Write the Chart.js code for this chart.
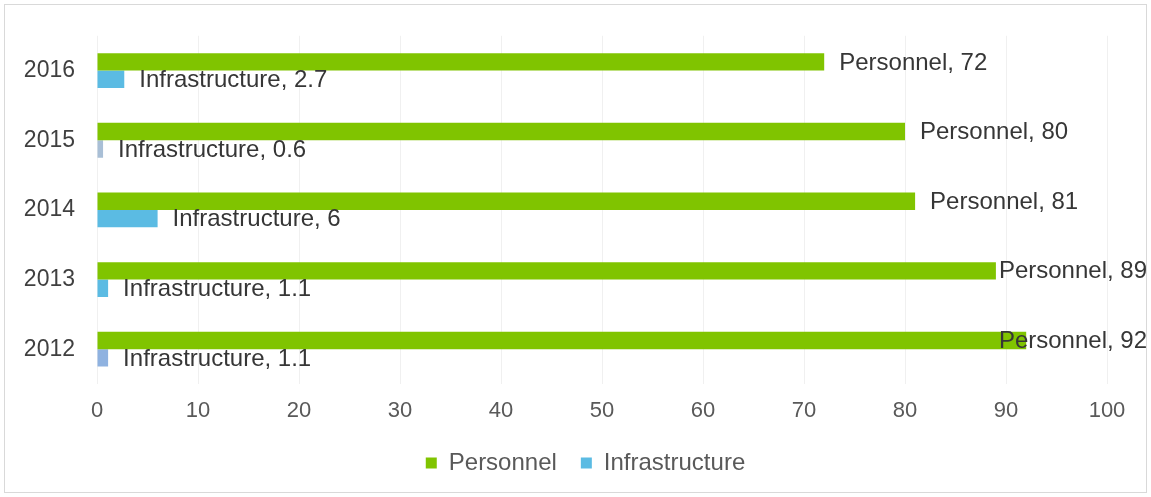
<!DOCTYPE html>
<html>
<head>
<meta charset="utf-8">
<title>Personnel vs Infrastructure</title>
<script src="https://cdn.jsdelivr.net/npm/chart.js@4/dist/chart.umd.min.js"></script>
<style>
  html, body { margin:0; padding:0; background:#fff; }
  #frame { position:absolute; left:4px; top:4px; width:1141px; height:487px; border:1px solid #d9d9d9; }
  #wrap { position:absolute; left:0; top:0; width:1151px; height:497px; }
</style>
</head>
<body>
<div id="frame"></div>
<div id="wrap"><canvas id="chart"></canvas></div>
<script>
// spending split per year (top row first)
const years = ['2016', '2015', '2014', '2013', '2012'];
const personnel = [72, 80, 81, 89, 92];
const infrastructure = [2.7, 0.6, 6, 1.1, 1.1];
const xTicks = [0, 10, 20, 30, 40, 50, 60, 70, 80, 90, 100];

const GREEN = '#80c400';
const BLUE = '#5bbbe3';
const infraColors = [BLUE, '#a9bfd6', BLUE, BLUE, '#8fb2e0'];
const FONT = '"Liberation Sans", Arial, sans-serif';

// "Series, value" text after each bar end, pulled back so it stays inside the canvas
const valueLabels = {
  id: 'valueLabels',
  afterDatasetsDraw(chart){
    const ctx = chart.ctx;
    ctx.save();
    ctx.font = '24px ' + FONT;
    ctx.fillStyle = '#363636';
    ctx.textBaseline = 'middle';
    chart.data.datasets.forEach((ds, i) => {
      chart.getDatasetMeta(i).data.forEach((bar, j) => {
        const txt = ds.label + ', ' + ds.data[j];
        const w = ctx.measureText(txt).width;
        const x = Math.min(bar.x + 15, chart.width - w - 4);
        ctx.fillText(txt, x, bar.y + 1);
      });
    });
    ctx.restore();
  }
};

// legend sits a little right of the canvas centre
const legendNudge = {
  id: 'legendNudge',
  afterLayout(chart){
    chart.legend.left += 32;
    chart.legend.right += 32;
  }
};

new Chart(document.getElementById('chart'), {
  type: 'bar',
  data: {
    labels: years,
    datasets: [
      { label:'Personnel', data:personnel, backgroundColor:GREEN, borderWidth:0 },
      { label:'Infrastructure', data:infrastructure, backgroundColor:infraColors, borderWidth:0 }
    ]
  },
  options: {
    indexAxis: 'y',
    responsive: true,
    maintainAspectRatio: false,
    animation: false,
    categoryPercentage: 0.5,
    barPercentage: 1.0,
    layout: { padding: { left:0, right:44, top:34, bottom:12 } },
    scales: {
      x: {
        min: 0, max: 100,
        afterBuildTicks(s){ s.ticks = xTicks.map(v => ({ value:v })); },
        afterFit(s){ s.height = 43; },
        grid: { color:'#f0f0f0', drawTicks:false },
        border: { display:false },
        ticks: { color:'#595959', padding:14, font:{ family:FONT, size:22 } }
      },
      y: {
        afterFit(s){ s.width = 97; },
        grid: { display:false, drawTicks:false },
        border: { display:false },
        ticks: { color:'#404040', padding:22, font:{ family:FONT, size:23 } }
      }
    },
    plugins: {
      legend: {
        position: 'bottom',
        labels: {
          color:'#595959',
          boxWidth:11, boxHeight:11,
          padding:24,
          generateLabels(chart){
            return chart.data.datasets.map((ds, i) => ({
              text: ds.label,
              fillStyle: i === 0 ? GREEN : BLUE,
              fontColor: '#595959',
              strokeStyle: 'transparent', lineWidth: 0,
              datasetIndex: i, hidden: false
            }));
          },
          font:{ family:FONT, size:24 }
        }
      },
      tooltip: { enabled:false }
    }
  },
  plugins: [valueLabels, legendNudge]
});
</script>
</body>
</html>
